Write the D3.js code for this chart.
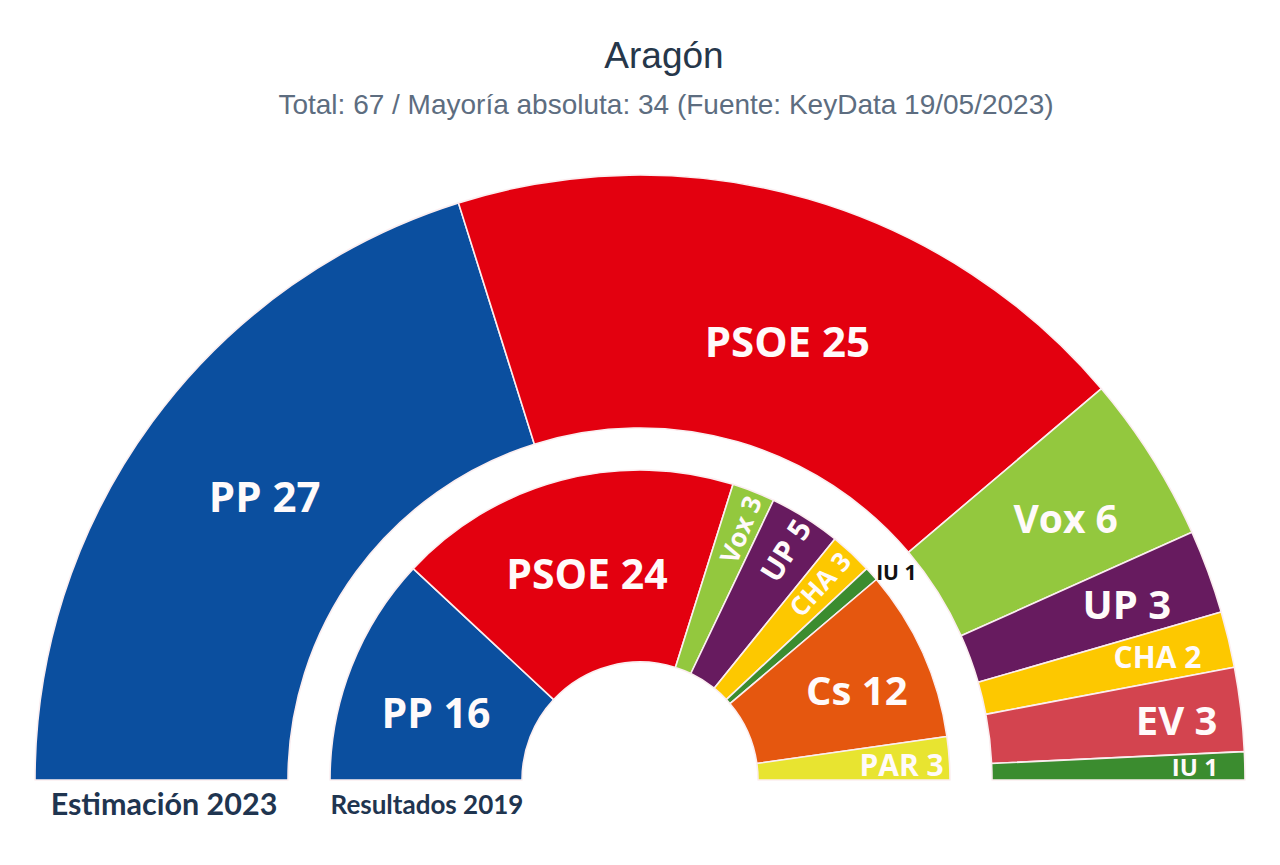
<!DOCTYPE html>
<html>
<head>
<meta charset="utf-8">
<script src="https://cdn.jsdelivr.net/npm/d3@7"></script>
<style>
  html, body { margin: 0; padding: 0; background: #ffffff; }
  svg { display: block; }
</style>
</head>
<body>
<svg id="chart" width="1280" height="865"></svg>
<script>
// ---- data ----
const titleText = "Aragón";
const subtitleText = "Total: 67 / Mayoría absoluta: 34 (Fuente: KeyData 19/05/2023)";

const outerParties = ["PP", "PSOE", "Vox", "UP", "CHA", "EV", "IU"];
const outerSeats   = [27, 25, 6, 3, 2, 3, 1];
const outerCaption = "Estimación 2023";

const innerParties = ["PP", "PSOE", "Vox", "UP", "CHA", "IU", "Cs", "PAR"];
const innerSeats   = [16, 24, 3, 5, 3, 1, 12, 3];
const innerCaption = "Resultados 2019";

// ---- styles / layout ----
const partyColor = {
  PP: "#0b4f9f", PSOE: "#e3000f", Vox: "#93c83e", UP: "#671b5f",
  CHA: "#fdc800", EV: "#d3444f", IU: "#3b8c2f", Cs: "#e5570f", PAR: "#e8e430"
};
const cx = 640, cy = 780;
const outerR = [352, 605];
const innerR = [118, 310];

// label layout: radius, angle offset (deg), font size, rotate along radius, colour
const outerLabelLayout = {
  PP:   {r: 471, da: 0.9,  fs: 42},
  PSOE: {r: 464, da: 2.4,  fs: 42},
  Vox:  {r: 500, da: 0.6,  fs: 39},
  UP:   {r: 518, da: 0.2,  fs: 40},
  CHA:  {r: 532, da: 0,    fs: 30},
  EV:   {r: 540, da: 0.3,  fs: 40},
  IU:   {r: 555, da: 0,    fs: 24}
};
const innerLabelLayout = {
  PP:   {r: 215, da: -3.1, fs: 41},
  PSOE: {r: 214, da: 0.4,  fs: 41},
  Vox:  {r: 270, da: 0.3,  fs: 26, rot: true},
  UP:   {r: 272, da: 0,    fs: 30, rot: true},
  CHA:  {r: 266, da: -0.5, fs: 26, rot: true},
  IU:   {r: 330, da: 2.6,  fs: 21, color: "#111111"},
  Cs:   {r: 235, da: 1.5,  fs: 40},
  PAR:  {r: 262, da: 0.7,  fs: 30}
};

const svg = d3.select("#chart");

// title
svg.append("text")
  .attr("x", 664).attr("y", 55)
  .attr("text-anchor", "middle").attr("dominant-baseline", "central")
  .attr("font-family", "'Liberation Sans', Arial, sans-serif")
  .attr("font-size", 37).attr("fill", "#26374a")
  .text(titleText);
svg.append("text")
  .attr("x", 666).attr("y", 104)
  .attr("text-anchor", "middle").attr("dominant-baseline", "central")
  .attr("font-family", "'Liberation Sans', Arial, sans-serif")
  .attr("font-size", 28).attr("fill", "#5d6d80")
  .text(subtitleText);

const pie = d3.pie().sort(null).value(d => d.v)
  .startAngle(-Math.PI / 2).endAngle(Math.PI / 2);

function drawRing(parties, seats, radii, layout) {
  const data = parties.map((p, i) => ({p, v: seats[i]}));
  const arcs = pie(data);
  const arc = d3.arc().innerRadius(radii[0]).outerRadius(radii[1]);
  const g = svg.append("g").attr("transform", `translate(${cx},${cy})`);
  g.selectAll("path").data(arcs).join("path")
    .attr("d", arc)
    .attr("fill", d => partyColor[d.data.p])
    .attr("stroke", "#fbeef0").attr("stroke-width", 1.6)
    .attr("stroke-linejoin", "round");
  g.selectAll("text").data(arcs).join("text")
    .each(function(d) {
      const L = layout[d.data.p];
      const a = (d.startAngle + d.endAngle) / 2 + L.da * Math.PI / 180;
      const x = L.r * Math.sin(a), y = -L.r * Math.cos(a);
      const rot = L.rot ? (a * 180 / Math.PI - 90) : 0;
      d3.select(this)
        .attr("transform", `translate(${x},${y}) rotate(${rot})`)
        .attr("text-anchor", "middle").attr("dominant-baseline", "central")
        .attr("font-family", "'Open Sans', 'Noto Sans', sans-serif")
        .attr("font-weight", 700)
        .attr("font-size", L.fs)
        .attr("fill", L.color || "#fffafa")
        .text(`${d.data.p} ${d.data.v}`);
    });
}

drawRing(outerParties, outerSeats, outerR, outerLabelLayout);
drawRing(innerParties, innerSeats, innerR, innerLabelLayout);

// captions
svg.append("text")
  .attr("x", 164).attr("y", 803)
  .attr("text-anchor", "middle").attr("dominant-baseline", "central")
  .attr("font-family", "Lato, 'Open Sans', sans-serif").attr("font-weight", 700)
  .attr("font-size", 30.5).attr("fill", "#1f3550")
  .text(outerCaption);
svg.append("text")
  .attr("x", 427).attr("y", 804)
  .attr("text-anchor", "middle").attr("dominant-baseline", "central")
  .attr("font-family", "Lato, 'Open Sans', sans-serif").attr("font-weight", 700)
  .attr("font-size", 26).attr("fill", "#1f3550")
  .text(innerCaption);
</script>
</body>
</html>
